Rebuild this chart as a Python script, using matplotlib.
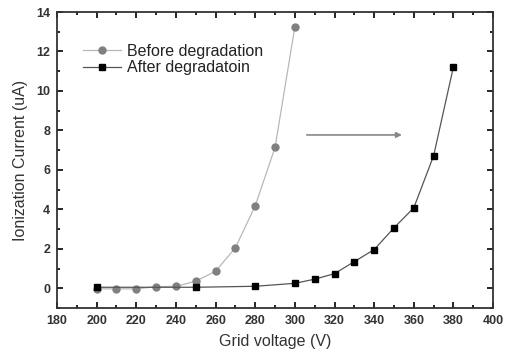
import matplotlib
matplotlib.use("Agg")
import matplotlib.pyplot as plt
from matplotlib.ticker import MultipleLocator

plt.rcParams['font.family'] = ['Liberation Sans', 'DejaVu Sans']

v_before = [200, 210, 220, 230, 240, 250, 260, 270, 280, 290, 300]
i_before = [-0.03, -0.03, -0.03, 0.08, 0.09, 0.36, 0.86, 2.05, 4.18, 7.14, 13.25]
v_after = [200, 250, 280, 300, 310, 320, 330, 340, 350, 360, 370, 380]
i_after = [0.05, 0.05, 0.1, 0.25, 0.46, 0.74, 1.35, 1.96, 3.06, 4.08, 6.72, 11.23]
x_ticks = [180, 200, 220, 240, 260, 280, 300, 320, 340, 360, 380, 400]
x_labels = ['180', '200', '220', '240', '260', '280', '300', '320', '340', '360', '380', '400']
y_ticks = [0, 2, 4, 6, 8, 10, 12, 14]

fig = plt.figure(figsize=(5.11, 3.54), dpi=100)
ax = fig.add_axes([0.1115, 0.130, 0.8535, 0.836])

ax.plot(v_before, i_before, '-', color='#b8b8b8', lw=0.9,
        marker='o', ms=5, mfc='#808080', mec='#808080', label='Before degradation')
ax.plot(v_after, i_after, '-', color='#555555', lw=0.9,
        marker='s', ms=4.5, mfc='black', mec='black', label='After degradatoin')

ax.annotate('', xy=(354, 7.77), xytext=(306, 7.77),
            arrowprops=dict(arrowstyle='-|>', color='#888888', lw=1.2,
                            mutation_scale=8, shrinkA=0, shrinkB=0))

ax.set_xlim(180, 400)
ax.set_ylim(-1, 14)
ax.set_xticks(x_ticks)
ax.set_xticklabels(x_labels)
ax.set_yticks(y_ticks)
ax.xaxis.set_minor_locator(MultipleLocator(10))
ax.yaxis.set_minor_locator(MultipleLocator(1))
ax.tick_params(which='both', direction='in', top=True, right=True, width=1.2)
ax.tick_params(which='major', length=4, labelsize=9, pad=5)
ax.tick_params(which='minor', length=2.5)
for lab in ax.get_xticklabels() + ax.get_yticklabels():
    lab.set_fontweight('bold')
    lab.set_color('#333333')
for s in ax.spines.values():
    s.set_linewidth(1.3)
    s.set_color('#333333')

ax.set_xlabel('Grid voltage (V)', fontsize=11.5, color='#333333', labelpad=5)
ax.set_ylabel('Ionization Current (uA)', fontsize=11.5, color='#333333', labelpad=6)

leg = ax.legend(loc='upper left', bbox_to_anchor=(0.045, 0.915), frameon=False,
                fontsize=11.5, handlelength=2.4, handletextpad=0.35, labelspacing=0.12,
                borderaxespad=0)
for t in leg.get_texts():
    t.set_color('#222222')

fig.savefig('out.png', dpi=100)
